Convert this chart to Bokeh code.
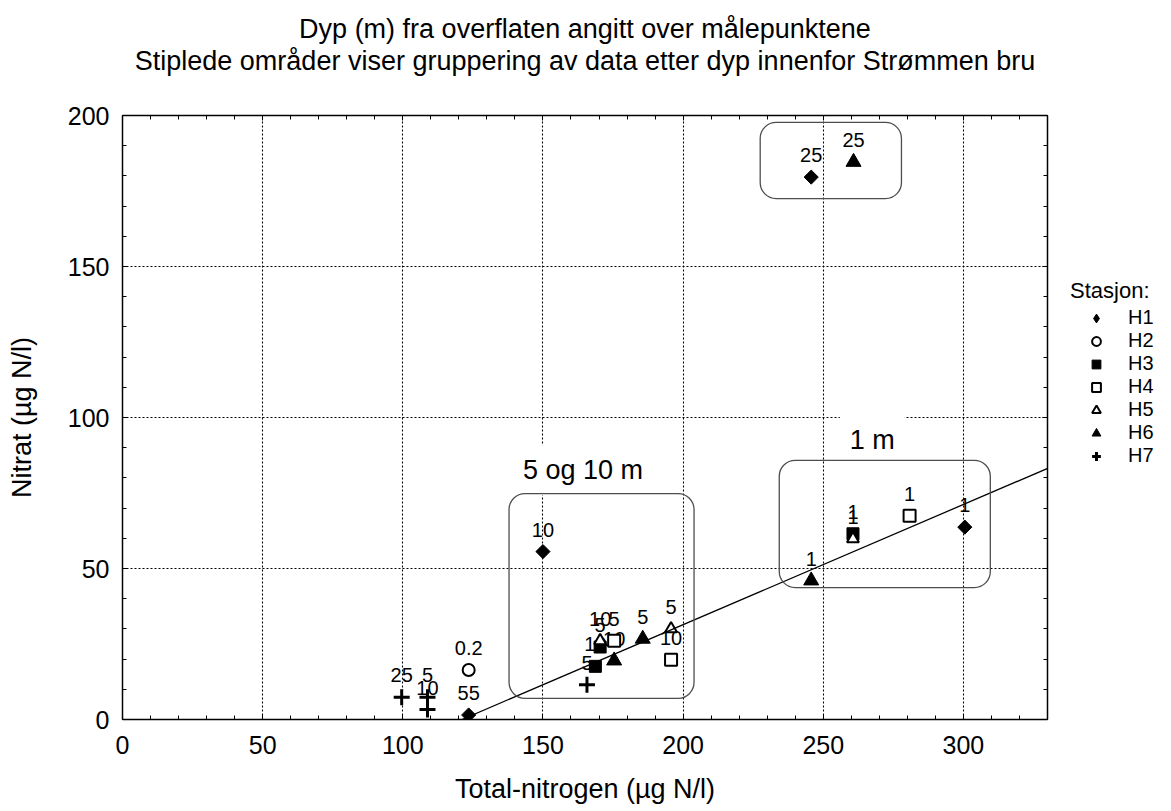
from bokeh.plotting import figure
from bokeh.layouts import row
from bokeh.models import (ColumnDataSource, Legend, LegendItem, LinearAxis, Range1d,
                          SingleIntervalTicker, BoxAnnotation, Label, Slope, Title)
from bokeh.core.properties import value
from bokeh.embed import file_html
from bokeh.resources import INLINE
import math

FONT = "Liberation Sans"

# ---- data (Total-nitrogen, Nitrat, depth label) ----
h1_x = [245.7, 150.0, 123.5, 300.5]
h1_y = [179.6, 55.6, 1.5, 63.7]
h1_d = ["25", "10", "55", "1"]

h2_x = [123.5]
h2_y = [16.4]
h2_d = ["0.2"]

h3_x = [168.7, 170.4, 260.6]
h3_y = [17.6, 24.0, 61.5]
h3_d = ["10", "5", "1"]

h4_x = [175.4, 195.7, 280.8]
h4_y = [26.1, 19.8, 67.5]
h4_d = ["5", "10", "1"]

h5_x = [170.4, 195.7, 260.6]
h5_y = [26.1, 30.0, 59.8]
h5_d = ["10", "5", "1"]

h6_x = [260.8, 175.4, 185.6, 245.7]
h6_y = [184.6, 19.5, 26.7, 46.0]
h6_d = ["25", "10", "5", "1"]

h7_x = [99.6, 108.8, 108.8, 165.7]
h7_y = [7.4, 7.4, 3.3, 11.5]
h7_d = ["25", "5", "10", "5"]

stations = ["H1", "H2", "H3", "H4", "H5", "H6", "H7"]

# regression line
line_gradient = 0.398
line_intercept = -48.2

# grouping areas (left, right, bottom, top)
group_deep = (227.5, 277.9, 172.5, 197.7)
group_5_10 = (137.9, 203.9, 7.0, 74.8)
group_1 = (234.3, 309.6, 43.7, 85.8)
label_5_10 = (164.3, 82.5, "5 og 10 m")
label_1 = (267.5, 92.4, "1 m")

x_limits = (0, 330)
y_limits = (0, 200)

title_line1 = "Dyp (m) fra overflaten angitt over målepunktene"
title_line2 = "Stiplede områder viser gruppering av data etter dyp innenfor Strømmen bru"

FRAME_W, FRAME_H = 925, 604
LEFT, TOP, RIGHT, BOTTOM = 122, 115, 10, 91

p = figure(frame_width=FRAME_W, frame_height=FRAME_H, output_backend="svg",
           toolbar_location=None, x_range=Range1d(*x_limits), y_range=Range1d(*y_limits),
           min_border_left=LEFT, min_border_right=RIGHT, min_border_top=TOP,
           min_border_bottom=BOTTOM, background_fill_color="white",
           border_fill_color="white", outline_line_color="black")
p.title.visible = False


def style_axis(ax, show_labels=True):
    ax.ticker = SingleIntervalTicker(interval=50, num_minor_ticks=5)
    ax.major_tick_in = 5
    ax.major_tick_out = 0
    ax.minor_tick_in = 4
    ax.minor_tick_out = 0
    ax.axis_line_color = "black"
    ax.axis_line_width = 1.5
    ax.major_tick_line_color = "black"
    ax.minor_tick_line_color = "black"
    ax.major_label_text_font = FONT
    ax.major_label_text_font_size = "25px" if show_labels else "0px"
    ax.major_label_text_color = "black" if show_labels else None
    if not show_labels:
        ax.major_label_standoff = 0
        ax.axis_label_standoff = 0
    ax.axis_label_text_font = FONT
    ax.axis_label_text_font_style = "normal"
    ax.axis_label_text_font_size = "27px"
    ax.axis_label_text_color = "black"


style_axis(p.xaxis[0])
style_axis(p.yaxis[0])
p.xaxis[0].axis_label = "Total-nitrogen (µg N/l)"
p.yaxis[0].axis_label = "Nitrat (µg N/l)"
p.xaxis[0].major_label_standoff = 16
p.yaxis[0].major_label_standoff = 13
p.xaxis[0].axis_label_standoff = 17
p.yaxis[0].axis_label_standoff = 28

top_ax = LinearAxis()
style_axis(top_ax, show_labels=False)
p.add_layout(top_ax, "above")
right_ax = LinearAxis()
style_axis(right_ax, show_labels=False)
p.add_layout(right_ax, "right")

# spacer between frame and the two title lines
p.add_layout(Title(text=" ", text_font=FONT, text_font_size="10px", standoff=27), "above")
p.add_layout(Title(text=title_line2, align="center", text_font=FONT,
                   text_font_size="27px", text_color="black", text_font_style="normal",
                   standoff=0), "above")
p.add_layout(Title(text=title_line1, align="center", text_font=FONT,
                   text_font_size="27px", text_color="black", text_font_style="normal",
                   standoff=0), "above")

p.grid.grid_line_color = "black"
p.grid.grid_line_dash = "2 2"
p.grid.grid_line_width = 1.1
p.xgrid.ticker = SingleIntervalTicker(interval=50)
p.ygrid.ticker = SingleIntervalTicker(interval=50)

# group labels with white background
for (lx, ly, lt) in [label_5_10, label_1]:
    p.add_layout(Label(x=lx, y=ly, text=lt, text_align="center", text_baseline="middle",
                       text_font=FONT, text_font_size="27px", text_color="black",
                       background_fill_color="white", padding=10))

for (l, r, b, t) in [group_deep, group_5_10, group_1]:
    p.add_layout(BoxAnnotation(left=l, right=r, bottom=b, top=t, fill_alpha=0,
                               line_color="#4d4d4d", line_alpha=1, line_width=1.3,
                               border_radius=16, level="overlay"))

p.add_layout(Slope(gradient=line_gradient, y_intercept=line_intercept,
                   line_color="black", line_width=1.3))

series = [
    (h1_x, h1_y, h1_d, dict(marker="square", size=10, angle=math.pi / 4, fill_color="black", line_color="black", line_width=1)),
    (h2_x, h2_y, h2_d, dict(marker="circle", size=12, fill_color="white", line_color="black", line_width=2)),
    (h3_x, h3_y, h3_d, dict(marker="square", size=12, fill_color="black", line_color="black", line_width=1)),
    (h4_x, h4_y, h4_d, dict(marker="square", size=12, fill_color="white", line_color="black", line_width=2)),
    (h5_x, h5_y, h5_d, dict(marker="triangle", size=12, fill_color="white", line_color="black", line_width=2)),
    (h6_x, h6_y, h6_d, dict(marker="triangle", size=15, fill_color="black", line_color="black", line_width=1)),
    (h7_x, h7_y, h7_d, dict(marker="cross", size=16, line_color="black", line_width=3)),
]

# depth labels first (markers drawn on top)
for xs, ys, ds, _ in series:
    src = ColumnDataSource(dict(x=xs, y=ys, d=ds))
    p.text(x="x", y="y", text="d", source=src, y_offset=-22, text_align="center",
           text_baseline="middle", text_font=value(FONT), text_font_size="20px",
           text_color="black")

for xs, ys, ds, st in series:
    src = ColumnDataSource(dict(x=xs, y=ys))
    p.scatter(x="x", y="y", source=src, **st)

# ---- legend panel (separate narrow figure to the right, frame aligned with p) ----
main_width = LEFT + FRAME_W + RIGHT
leg_fig = figure(width=1165 - main_width, frame_height=FRAME_H, output_backend="svg",
                 toolbar_location=None, x_range=Range1d(0, 1), y_range=Range1d(0, 1),
                 min_border_left=0, min_border_top=TOP, min_border_right=0,
                 min_border_bottom=BOTTOM, outline_line_color=None,
                 background_fill_color="white", border_fill_color="white")
leg_fig.axis.visible = False
leg_fig.grid.visible = False
leg_fig.title.visible = False

legend_styles = [
    dict(marker="diamond", fill_color="black", line_color="black"),
    dict(marker="circle", fill_color="white", line_color="black", line_width=2),
    dict(marker="square", fill_color="black", line_color="black"),
    dict(marker="square", fill_color="white", line_color="black", line_width=2),
    dict(marker="triangle", fill_color="white", line_color="black", line_width=2),
    dict(marker="triangle", fill_color="black", line_color="black"),
    dict(marker="cross", line_color="black", line_width=3),
]
items = []
for name, st in zip(stations, legend_styles):
    # glyph-only renderer (no visible data) used to draw the legend symbol
    r = leg_fig.scatter(x=[float("nan")], y=[float("nan")], **st)
    items.append(LegendItem(label=name, renderers=[r]))

legend = Legend(items=items, title="Stasjon:", location=(13, 252), margin=0,
                title_text_font=FONT, title_text_font_size="22px", title_text_color="black",
                title_text_font_style="normal", label_text_font=FONT, label_text_color="black",
                label_text_font_size="20px", glyph_width=52, glyph_height=22,
                label_height=20, label_standoff=6, spacing=0, padding=0,
                title_standoff=2, border_line_color=None, background_fill_alpha=0)
leg_fig.add_layout(legend, "center")

layout = row(p, leg_fig, spacing=0)
open("out.html", "w").write(file_html(layout, INLINE))
